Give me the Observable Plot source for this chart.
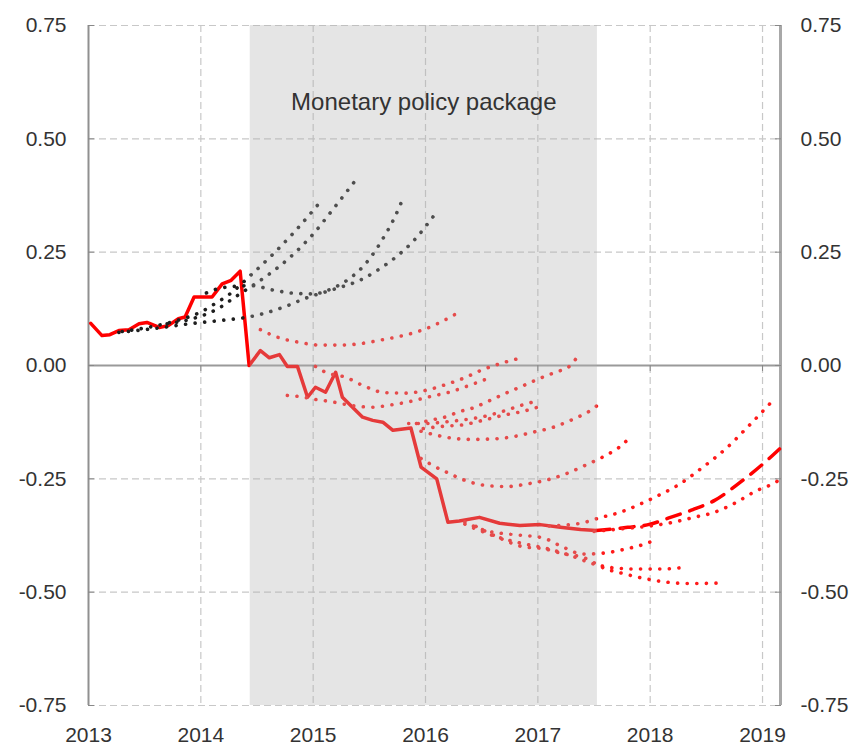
<!DOCTYPE html>
<html>
<head>
<meta charset="utf-8">
<script src="https://cdn.jsdelivr.net/npm/d3@7"></script>
<script src="https://cdn.jsdelivr.net/npm/@observablehq/plot@0.6"></script>
<style>
  html, body { margin: 0; padding: 0; background: #fff; }
  #chart { width: 858px; height: 748px; }
</style>
</head>
<body>
<div id="chart"></div>
<script>
// ---------- data ----------
const xTicks = [2013, 2014, 2015, 2016, 2017, 2018, 2019];
const yTicks = [-0.75, -0.5, -0.25, 0, 0.25, 0.5, 0.75];
const xDomain = [2013, 2019.16];
const yDomain = [-0.75, 0.75];

const pkgStart = 2014.44;
const pkgEnd = 2017.53;
const pkgLabel = "Monetary policy package";

// realised (solid red)
const mainYears = [2013.02, 2013.12, 2013.19, 2013.27, 2013.36, 2013.45, 2013.52, 2013.63, 2013.71, 2013.80,
  2013.86, 2013.94, 2014.10, 2014.19, 2014.27, 2014.35, 2014.43, 2014.53, 2014.61, 2014.70,
  2014.77, 2014.86, 2014.95, 2015.02, 2015.11, 2015.20, 2015.26, 2015.35, 2015.44, 2015.53,
  2015.62, 2015.71, 2015.80, 2015.87, 2015.96, 2016.10, 2016.20, 2016.30, 2016.48, 2016.66,
  2016.84, 2017.02, 2017.20, 2017.38, 2017.52];
const mainValues = [0.093, 0.066, 0.068, 0.077, 0.079, 0.092, 0.095, 0.084, 0.088, 0.103,
  0.107, 0.151, 0.151, 0.180, 0.188, 0.208, 0.000, 0.033, 0.017, 0.024,
  -0.002, -0.002, -0.070, -0.048, -0.059, -0.015, -0.070, -0.092, -0.114, -0.121,
  -0.125, -0.143, -0.140, -0.138, -0.224, -0.250, -0.346, -0.343, -0.335, -0.348,
  -0.353, -0.351, -0.357, -0.362, -0.364];

// projection (dashed red)
const projYears = [2017.52, 2017.80, 2018.00, 2018.18, 2018.38, 2018.57, 2018.80, 2019.00, 2019.16];
const projValues = [-0.364, -0.357, -0.350, -0.335, -0.318, -0.298, -0.258, -0.218, -0.182];

// forward curves before the package (black dotted): [year, value]
const fwdB1 = [[2013.30,0.075],[2013.55,0.085],[2013.80,0.100],[2014.00,0.118],[2014.13,0.137],[2014.27,0.160],[2014.43,0.196],[2014.64,0.245],[2014.83,0.294],[2015.02,0.348],[2015.08,0.366]];
const fwdB2 = [[2013.70,0.092],[2013.95,0.105],[2014.15,0.125],[2014.30,0.150],[2014.44,0.173],[2014.60,0.200],[2014.80,0.240],[2015.00,0.290],[2015.20,0.352],[2015.41,0.419]];
const fwdB3 = [[2014.05,0.160],[2014.20,0.172],[2014.45,0.176],[2014.65,0.166],[2014.85,0.159],[2015.00,0.158],[2015.17,0.170],[2015.33,0.193],[2015.45,0.220],[2015.55,0.252],[2015.64,0.288],[2015.72,0.324],[2015.78,0.357]];
const fwdB4 = [[2013.27,0.073],[2013.60,0.082],[2013.90,0.092],[2014.20,0.100],[2014.40,0.106],[2014.55,0.114],[2014.75,0.130],[2014.95,0.150],[2015.17,0.167],[2015.44,0.191],[2015.59,0.213],[2015.74,0.240],[2015.89,0.274],[2016.07,0.329]];

// forward curves during / after the package (red dotted)
const fwdR1 = [[2014.53,0.079],[2014.70,0.061],[2014.88,0.051],[2015.06,0.045],[2015.26,0.045],[2015.44,0.049],[2015.62,0.057],[2015.80,0.066],[2015.98,0.079],[2016.13,0.095],[2016.30,0.118]];
const fwdR2 = [[2014.77,-0.066],[2014.86,-0.068],[2015.05,-0.076],[2015.14,-0.079],[2015.34,-0.088],[2015.52,-0.092],[2015.69,-0.087],[2015.87,-0.079],[2016.05,-0.068],[2016.21,-0.059],[2016.39,-0.044],[2016.57,-0.027]];
const fwdR3 = [[2015.02,-0.002],[2015.11,-0.015],[2015.29,-0.026],[2015.46,-0.046],[2015.64,-0.060],[2015.82,-0.061],[2016.00,-0.055],[2016.18,-0.042],[2016.35,-0.027],[2016.51,-0.009],[2016.69,0.006],[2016.87,0.018]];
const fwdR4 = [[2015.92,-0.128],[2016.06,-0.120],[2016.17,-0.114],[2016.30,-0.102],[2016.43,-0.093],[2016.55,-0.080],[2016.68,-0.065],[2016.80,-0.052],[2016.93,-0.038],[2017.05,-0.025],[2017.18,-0.013],[2017.27,-0.004],[2017.34,0.015]];
const fwdR5 = [[2015.85,-0.128],[2016.00,-0.128],[2016.15,-0.125],[2016.33,-0.120],[2016.51,-0.113],[2016.69,-0.101],[2016.85,-0.088],[2016.95,-0.081]];
const fwdR6 = [[2015.98,-0.139],[2016.16,-0.134],[2016.33,-0.131],[2016.51,-0.121],[2016.69,-0.110],[2016.87,-0.101],[2017.05,-0.088]];
const fwdR7 = [[2015.96,-0.145],[2016.05,-0.151],[2016.23,-0.160],[2016.41,-0.163],[2016.60,-0.162],[2016.78,-0.157],[2016.96,-0.147],[2017.14,-0.136],[2017.30,-0.120],[2017.47,-0.099],[2017.54,-0.086]];
const fwdR8 = [[2015.96,-0.205],[2016.04,-0.217],[2016.20,-0.237],[2016.37,-0.255],[2016.55,-0.265],[2016.73,-0.267],[2016.91,-0.261],[2017.09,-0.252],[2017.27,-0.237],[2017.44,-0.218],[2017.60,-0.199],[2017.76,-0.173],[2017.82,-0.158]];
const fwdR9 = [[2017.10,-0.354],[2017.38,-0.348],[2017.55,-0.336],[2017.73,-0.324],[2017.90,-0.307],[2018.07,-0.287],[2018.24,-0.265],[2018.46,-0.226],[2018.68,-0.182],[2018.87,-0.135],[2019.07,-0.083]];
const fwdR10 = [[2017.50,-0.366],[2017.80,-0.359],[2018.00,-0.354],[2018.20,-0.346],[2018.39,-0.335],[2018.57,-0.324],[2018.75,-0.304],[2018.94,-0.277],[2019.12,-0.257],[2019.16,-0.250]];
const fwdR11 = [[2016.35,-0.345],[2016.53,-0.364],[2016.79,-0.373],[2017.04,-0.380],[2017.22,-0.400],[2017.40,-0.416],[2017.58,-0.414],[2017.78,-0.405],[2017.96,-0.393],[2018.04,-0.385]];
const fwdR12 = [[2016.35,-0.350],[2016.60,-0.375],[2016.85,-0.392],[2017.10,-0.405],[2017.30,-0.420],[2017.50,-0.438],[2017.70,-0.447],[2017.90,-0.449],[2018.10,-0.449],[2018.31,-0.445]];
const fwdR13 = [[2016.45,-0.355],[2016.69,-0.384],[2016.87,-0.400],[2017.05,-0.404],[2017.22,-0.415],[2017.40,-0.423],[2017.60,-0.448],[2017.76,-0.459],[2017.95,-0.470],[2018.15,-0.478],[2018.35,-0.481],[2018.61,-0.480]];

const blackCurves = [fwdB1, fwdB2, fwdB3, fwdB4];
const redCurves = [fwdR1, fwdR2, fwdR3, fwdR4, fwdR5, fwdR6, fwdR7, fwdR8, fwdR9, fwdR10, fwdR11, fwdR12, fwdR13];

// ---------- tables ----------
const toRows = (curves) => curves.flatMap((c, i) => c.map(([x, y]) => ({x, y, id: i})));
const blackRows = toRows(blackCurves);
const redRows = toRows(redCurves);
const mainRows = mainYears.map((x, i) => ({x, y: mainValues[i]}));
const projRows = projYears.map((x, i) => ({x, y: projValues[i]}));

// ---------- layout ----------
const W = 858, H = 748, mT = 25, mB = 43, mL = 88, mR = 78;
const plotH = H - mT - mB;
const zeroDy = (mT + plotH * (yDomain[1] - 0) / (yDomain[1] - yDomain[0])) - (H - mB);
const fmtY = d => d.toFixed(2);
const FONT = "'Liberation Sans', Arial, sans-serif";
const dotStyle = {strokeWidth: 3.6, strokeDasharray: "0.1,9.5", strokeLinecap: "round", curve: "monotone-x"};

const chart = Plot.plot({
  width: W, height: H,
  marginTop: mT, marginBottom: mB, marginLeft: mL, marginRight: mR,
  style: {fontFamily: FONT, fontSize: "21px", color: "#333", background: "#fff", overflow: "visible"},
  x: {domain: xDomain},
  y: {domain: yDomain},
  marks: [
    Plot.ruleY(yTicks.filter(d => d !== 0), {stroke: "#c8c8c8", strokeWidth: 1.2, strokeDasharray: "7,4"}),
    Plot.ruleX(xTicks.filter(d => d > xDomain[0]), {stroke: "#c8c8c8", strokeWidth: 1.2, strokeDasharray: "7,4"}),
    Plot.ruleY([0], {stroke: "#9a9a9a", strokeWidth: 2}),
    Plot.ruleX([xDomain[0]], {stroke: "#909090", strokeWidth: 2}),
    Plot.ruleX([xDomain[1]], {stroke: "#a8a8a8", strokeWidth: 3}),

    Plot.line(mainRows, {x: "x", y: "y", stroke: "#ff0000", strokeWidth: 3.5, strokeLinejoin: "round"}),
    Plot.line(projRows, {x: "x", y: "y", stroke: "#ff0000", strokeWidth: 3.5, strokeDasharray: "14,10", curve: "monotone-x"}),
    Plot.line(blackRows, {x: "x", y: "y", z: "id", stroke: "#1e1e1e", ...dotStyle}),
    Plot.line(redRows, {x: "x", y: "y", z: "id", stroke: "#ff1a1a", ...dotStyle}),

    Plot.rect([{x1: pkgStart, x2: pkgEnd}], {x1: "x1", x2: "x2", y1: yDomain[0], y2: yDomain[1], fill: "#b0b0b0", fillOpacity: 0.33}),
    Plot.text([pkgLabel], {x: (pkgStart + pkgEnd) / 2, frameAnchor: "top", dy: 67, text: d => d, fontSize: 24, fill: "#333"}),

    Plot.axisY({anchor: "left", ticks: yTicks, tickFormat: fmtY, tickSize: 0, tickPadding: 22, label: null, fontSize: 21, fill: "#333"}),
    Plot.axisY({anchor: "right", ticks: yTicks, tickFormat: fmtY, tickSize: 0, tickPadding: 20, label: null, fontSize: 21, fill: "#333"}),
    Plot.axisY({anchor: "left", ticks: yTicks, tickFormat: () => "", tickSize: 6, dx: 6, label: null, stroke: "#888"}),
    Plot.axisY({anchor: "right", ticks: yTicks, tickFormat: () => "", tickSize: 6, dx: -6, label: null, stroke: "#888"}),
    Plot.axisX({anchor: "bottom", ticks: xTicks, tickFormat: d => String(d), tickSize: 0, tickPadding: 22, label: null, fontSize: 21, fill: "#333"}),
    Plot.axisX({anchor: "bottom", ticks: xTicks.filter(d => d > xDomain[0]), tickFormat: () => "", tickSize: 6, dy: zeroDy, label: null, stroke: "#888"})
  ]
});
document.getElementById("chart").appendChild(chart);
</script>
</body>
</html>
